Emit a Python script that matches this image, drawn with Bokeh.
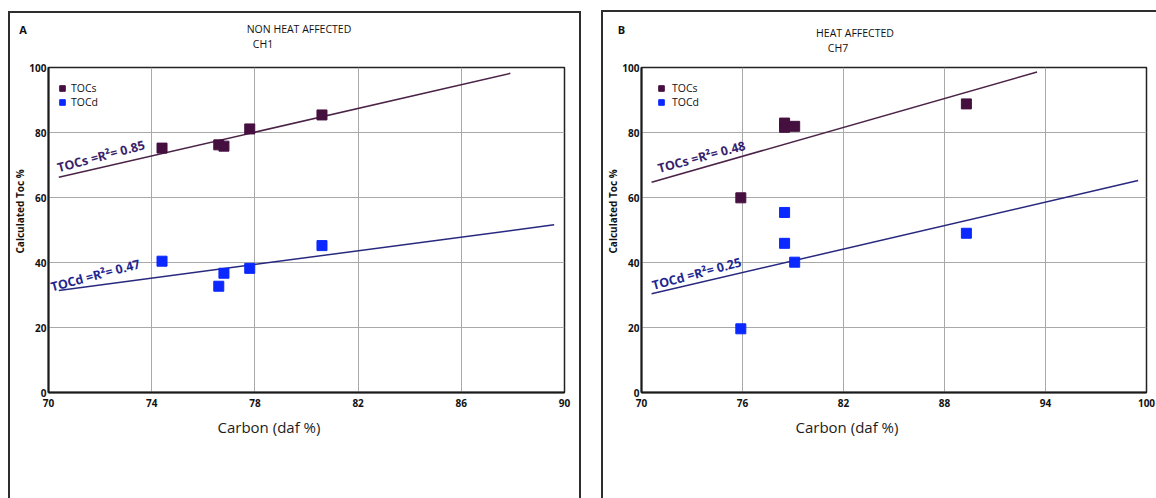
import math
from bokeh.plotting import figure
from bokeh.layouts import row, column
from bokeh.models import Label, Legend, LegendItem, FixedTicker, Range1d, Title, Div
from bokeh.embed import file_html
from bokeh.resources import INLINE

# ---------------- data ----------------
# Panel A : non heat affected, CH1
carbon_A = [74.4, 76.6, 76.8, 77.8, 80.6]
tocs_A = [75.2, 76.2, 75.8, 81.1, 85.4]
tocd_A = [40.4, 32.7, 36.7, 38.2, 45.2]
fit_s_x_A = [70.4, 87.9]
fit_s_y_A = [66.2, 98.2]
fit_d_x_A = [70.4, 89.6]
fit_d_y_A = [31.4, 51.6]
r2_s_A = "0.85"
r2_d_A = "0.47"
xticks_A = [70, 74, 78, 82, 86, 90]

# Panel B : heat affected, CH7
carbon_B = [75.9, 78.5, 78.5, 79.1, 89.3]
tocs_B = [59.9, 81.6, 82.9, 81.9, 88.8]
tocd_B = [19.6, 55.4, 45.9, 40.1, 49.0]
fit_s_x_B = [70.6, 93.5]
fit_s_y_B = [64.7, 98.6]
fit_d_x_B = [70.6, 99.5]
fit_d_y_B = [30.4, 65.2]
r2_s_B = "0.48"
r2_d_B = "0.25"
xticks_B = [70, 76, 82, 88, 94, 100]

yticks = [0, 20, 40, 60, 80, 100]
series_names = ["TOCs", "TOCd"]

FONT = "Open Sans"
C_S = "#45103f"
C_D = "#0a28ff"
C_S_LINE = "#4a2346"
C_D_LINE = "#27287e"
C_S_TXT = "#3a1f6c"
C_D_TXT = "#1e2790"
BOX = "2px solid #2e2e2e"


def header(width, height, items):
    spans = []
    for (txt, cx, cy, weight, size) in items:
        spans.append(
            f'<span style="position:absolute;left:{cx}px;top:{cy}px;'
            f'transform:translate(-50%,-50%);white-space:nowrap;line-height:1;'
            f'font-family:\'Open Sans\';font-size:{size}px;font-weight:{weight};'
            f'color:#111111;">{txt}</span>')
    html = (f'<div style="position:relative;width:{width}px;height:{height}px;">'
            + "".join(spans) + "</div>")
    return Div(text=html, width=width, height=height, margin=0)


def panel(carbon, tocs, tocd, fsx, fsy, fdx, fdy, r2s, r2d, xticks, xmax,
          fw, ml, mr, xlab_off, leg_x, leg_standoff, ls_pos, ld_pos):
    p = figure(title=None, frame_width=fw, frame_height=325, output_backend="svg",
               toolbar_location=None, min_border_left=ml, min_border_right=mr,
               min_border_top=8, min_border_bottom=106,
               x_range=Range1d(70, xmax), y_range=Range1d(0, 100),
               background_fill_color="white", border_fill_color="white", margin=0)
    p.xaxis.ticker = FixedTicker(ticks=xticks)
    p.yaxis.ticker = FixedTicker(ticks=yticks)
    for ax in (p.xaxis, p.yaxis):
        ax.major_tick_line_color = None
        ax.minor_tick_line_color = None
        ax.major_tick_out = 0
        ax.major_tick_in = 0
        ax.minor_tick_out = 0
        ax.minor_tick_in = 0
        ax.axis_line_color = "#1a1a1a"
        ax.axis_line_width = 2
        ax.major_label_text_font = FONT
        ax.major_label_text_font_size = "10px"
        ax.major_label_text_font_style = "bold"
        ax.major_label_text_color = "#111111"
    p.xaxis.major_label_standoff = 6
    p.yaxis.major_label_standoff = 2
    p.grid.grid_line_color = "#a9a9a9"
    p.grid.grid_line_width = 1
    p.outline_line_color = "#222222"
    p.outline_line_width = 1.5

    # regression lines
    p.line(fsx, fsy, line_color=C_S_LINE, line_width=1.5)
    p.line(fdx, fdy, line_color=C_D_LINE, line_width=1.5)
    # points
    rs = p.scatter(carbon, tocs, marker="square", size=10, fill_color=C_S, line_color=C_S)
    rd = p.scatter(carbon, tocd, marker="square", size=10, fill_color=C_D, line_color=C_D)

    # R^2 annotations along the lines
    ang = math.radians(15)
    p.add_layout(Label(x=ls_pos[0], y=ls_pos[1], text="TOCs =R\u00b2= " + r2s, angle=ang,
                       text_font=FONT, text_font_size="12.5px", text_font_style="bold",
                       text_color=C_S_TXT, text_align="left", text_baseline="alphabetic"))
    p.add_layout(Label(x=ld_pos[0], y=ld_pos[1], text="TOCd =R\u00b2= " + r2d, angle=ang,
                       text_font=FONT, text_font_size="12.5px", text_font_style="bold",
                       text_color=C_D_TXT, text_align="left", text_baseline="alphabetic"))

    # legend
    leg = Legend(items=[LegendItem(label=series_names[0], renderers=[rs]),
                        LegendItem(label=series_names[1], renderers=[rd])],
                 location=(leg_x, 283), orientation="vertical",
                 glyph_width=14, glyph_height=14, label_height=14, spacing=-2,
                 padding=0, margin=0, label_standoff=leg_standoff,
                 label_text_font=FONT, label_text_font_size="10.5px",
                 label_text_color="#111111", border_line_color=None,
                 background_fill_alpha=0)
    p.add_layout(leg)

    # axis titles
    p.add_layout(Title(text="Carbon (daf %)", align="left", offset=xlab_off, standoff=10,
                       text_font=FONT, text_font_size="15px", text_font_style="normal",
                       text_color="#1c1c1c"), "below")
    p.add_layout(Title(text="Calculated Toc %", align="left", offset=139, standoff=0,
                       text_font=FONT, text_font_size="10px", text_font_style="bold",
                       text_color="#111111"), "left")
    return p


pA = panel(carbon_A, tocs_A, tocd_A, fit_s_x_A, fit_s_y_A, fit_d_x_A, fit_d_y_A,
           r2_s_A, r2_d_A, xticks_A, 90, 516, 35, 15, 169, 7, 2,
           (70.35, 69.1), (70.1, 32.4))
pB = panel(carbon_B, tocs_B, tocd_B, fit_s_x_B, fit_s_y_B, fit_d_x_B, fit_d_y_B,
           r2_s_B, r2_d_B, xticks_B, 100, 505, 35, 12, 154, 13, 4,
           (70.98, 68.9), (70.64, 32.9))

hA = header(566, 46, [("A", 13, 16, 700, 11),
                      ("NON HEAT AFFECTED", 289, 16, 400, 10.5),
                      ("CH1", 253, 31, 400, 10.5)])
hB = header(554, 47, [("B", 18.5, 17, 700, 11),
                      ("HEAT AFFECTED", 252, 21, 400, 10.5),
                      ("CH7", 235, 36, 400, 10.5)])

colA = column(hA, pA, spacing=0, margin=(11, 0, 0, 8),
              styles={"border-top": BOX, "border-left": BOX, "border-right": BOX,
                      "border-bottom": "none"})
colB = column(hB, pB, spacing=0, margin=(10, 0, 0, 20),
              styles={"border-top": BOX, "border-left": BOX, "border-right": "none",
                      "border-bottom": "none"})

layout = row(colA, colB, spacing=0)
open("out.html", "w").write(file_html(layout, INLINE))
